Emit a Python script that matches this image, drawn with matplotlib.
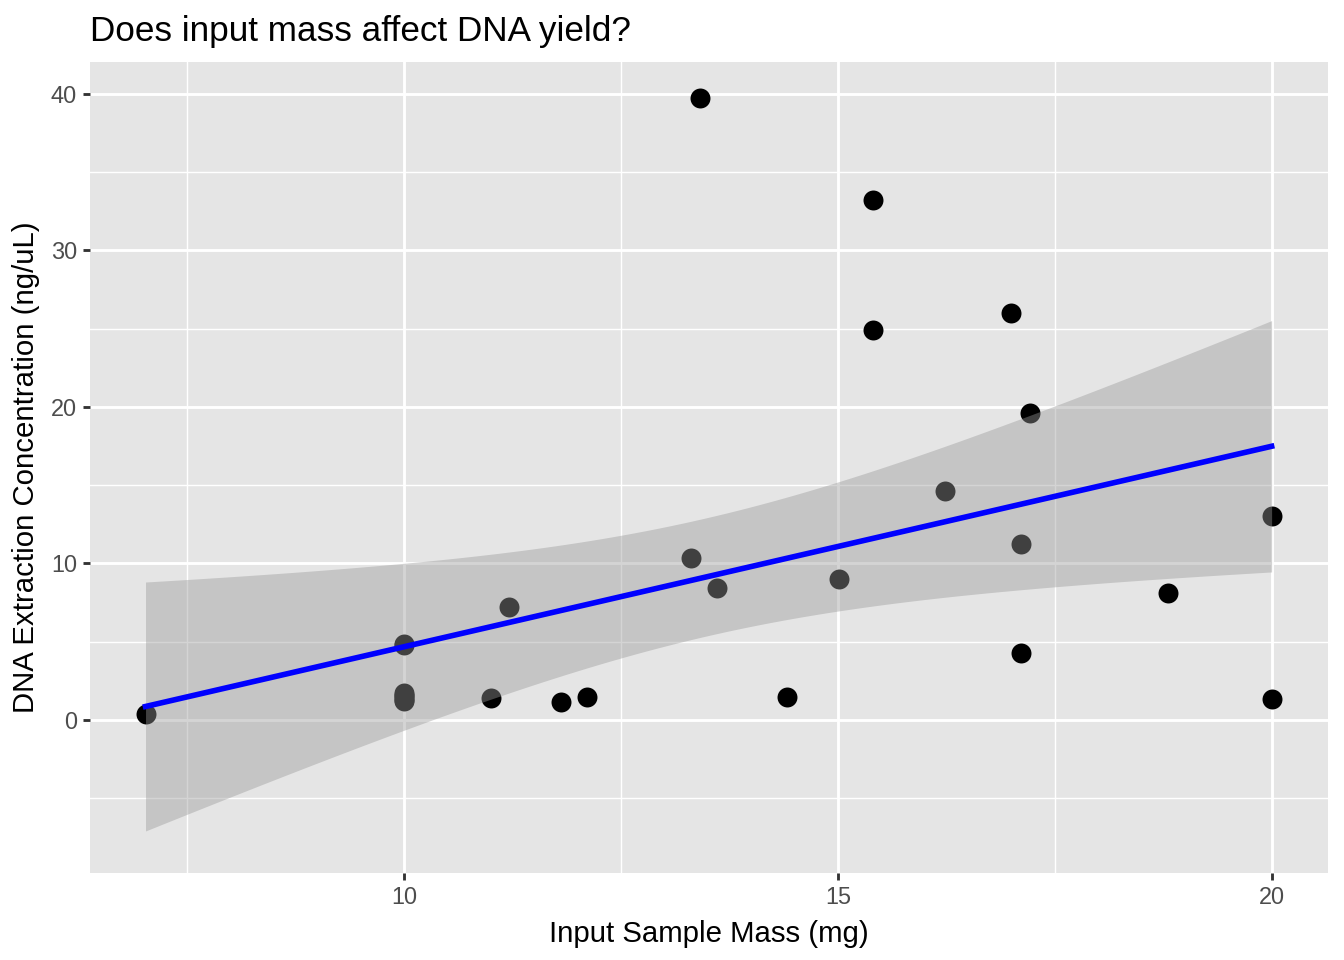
import matplotlib.pyplot as plt
import numpy as np

plt.rcParams['font.family'] = ['Liberation Sans', 'DejaVu Sans']

# input mass (mg) and DNA concentration (ng/uL)
# several samples at 10 mg overlap each other in the picture
mass = [7.02, 10.0, 10.0, 10.0, 10.0, 10.0, 10.0, 10.0, 10.0,
        11.0, 11.21, 11.81, 12.11, 13.31, 13.41, 13.61,
        14.41, 15.01, 15.40, 15.40, 16.24, 17.00, 17.11, 17.11, 17.21, 18.80,
        20.0, 20.0]
conc = [0.38, 4.86, 4.8, 1.7, 1.6, 1.5, 1.4, 1.3, 1.2,
        1.41, 7.22, 1.15, 1.47, 10.35, 39.74, 8.43,
        1.47, 9.01, 33.23, 24.92, 14.63, 26.0, 11.25, 4.28, 19.62, 8.11,
        13.04, 1.34]

x = np.array(mass)
y = np.array(conc)
n = len(x)

# linear fit with 95% confidence band (like geom_smooth(method='lm'))
b1, b0 = np.polyfit(x, y, 1)
resid = y - (b0 + b1 * x)
s = np.sqrt(np.sum(resid**2) / (n - 2))
t975 = 2.056  # t quantile, df = 26
xs = np.linspace(x.min(), x.max(), 100)
ys = b0 + b1 * xs
se = s * np.sqrt(1 / n + (xs - x.mean())**2 / np.sum((x - x.mean())**2))

fig = plt.figure(figsize=(7, 5), dpi=192)
ax = fig.add_axes([90/1344, 87/960, 1238/1344, 811/960])
ax.set_facecolor('#E5E5E5')

ax.scatter(x, y, s=56, c='black', linewidths=0, zorder=3)
ax.fill_between(xs, ys - t975*se, ys + t975*se, color='#999999', alpha=0.42,
                linewidth=0, zorder=4)
ax.plot(xs, ys, color='blue', linewidth=2.1, zorder=5)

ax.set_xlim(6.38, 20.65)
ax.set_ylim(-9.78, 42.04)
ax.set_xticks([10, 15, 20])
ax.set_yticks([0, 10, 20, 30, 40])
ax.set_xticks([7.5, 12.5, 17.5], minor=True)
ax.set_yticks([-5, 5, 15, 25, 35], minor=True)
ax.grid(which='major', color='white', linewidth=1.07)
ax.grid(which='minor', color='white', linewidth=0.53)
ax.set_axisbelow(True)
for sp in ax.spines.values():
    sp.set_visible(False)
ax.tick_params(which='major', length=2.75, width=1.07, color='#333333',
               labelcolor='#4D4D4D', labelsize=8.8, pad=2.2)
ax.tick_params(which='minor', length=0)

ax.set_xlabel('Input Sample Mass (mg)', fontsize=11, labelpad=4)
ax.set_ylabel('DNA Extraction Concentration (ng/uL)', fontsize=11, labelpad=4)
ax.set_title('Does input mass affect DNA yield?', fontsize=13.2, loc='left', pad=8)

fig.savefig('out.png', dpi=192)
